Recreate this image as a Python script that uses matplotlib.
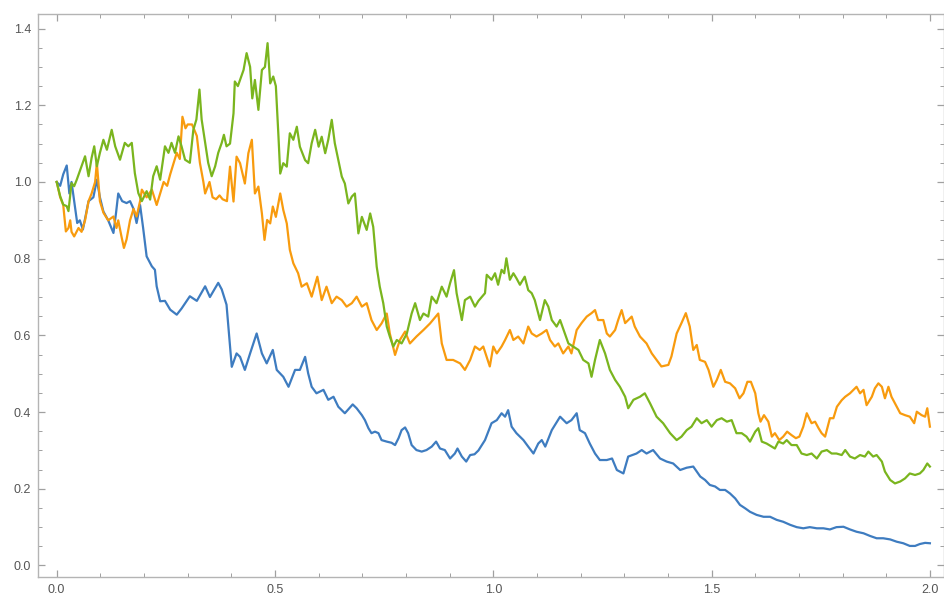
import matplotlib
matplotlib.use("Agg")
import matplotlib.pyplot as plt
from matplotlib.ticker import MultipleLocator

blue_pts = [
    (0.000, 1.000), (0.008, 0.990), (0.015, 1.020), (0.023, 1.043), (0.029, 0.970), (0.034, 1.000),
    (0.040, 0.950), (0.047, 0.893), (0.053, 0.900), (0.060, 0.876), (0.066, 0.910), (0.073, 0.950),
    (0.084, 0.960), (0.092, 1.006), (0.099, 0.960), (0.107, 0.923), (0.118, 0.900), (0.130, 0.867),
    (0.136, 0.920), (0.141, 0.970), (0.150, 0.950), (0.160, 0.945), (0.168, 0.950), (0.176, 0.930),
    (0.183, 0.893), (0.191, 0.940), (0.198, 0.880), (0.206, 0.806), (0.218, 0.780), (0.225, 0.771),
    (0.229, 0.728), (0.237, 0.689), (0.248, 0.690), (0.260, 0.667), (0.275, 0.654), (0.286, 0.670),
    (0.305, 0.702), (0.321, 0.690), (0.340, 0.728), (0.351, 0.700), (0.370, 0.737), (0.378, 0.720),
    (0.389, 0.680), (0.395, 0.600), (0.401, 0.518), (0.412, 0.553), (0.420, 0.544), (0.431, 0.510),
    (0.443, 0.553), (0.458, 0.605), (0.470, 0.553), (0.481, 0.527), (0.495, 0.562), (0.504, 0.510),
    (0.519, 0.492), (0.531, 0.466), (0.546, 0.510), (0.557, 0.510), (0.569, 0.544), (0.576, 0.501),
    (0.584, 0.466), (0.595, 0.449), (0.611, 0.458), (0.622, 0.432), (0.634, 0.440), (0.645, 0.414),
    (0.660, 0.397), (0.678, 0.420), (0.687, 0.410), (0.699, 0.392), (0.706, 0.379), (0.714, 0.358),
    (0.721, 0.345), (0.729, 0.349), (0.737, 0.345), (0.744, 0.327), (0.756, 0.323), (0.767, 0.320),
    (0.775, 0.314), (0.783, 0.332), (0.790, 0.353), (0.798, 0.360), (0.805, 0.345), (0.813, 0.314),
    (0.824, 0.301), (0.836, 0.297), (0.847, 0.301), (0.859, 0.310), (0.869, 0.323), (0.878, 0.305),
    (0.889, 0.301), (0.901, 0.279), (0.912, 0.292), (0.918, 0.305), (0.928, 0.284), (0.938, 0.271),
    (0.947, 0.288), (0.957, 0.290), (0.966, 0.300), (0.981, 0.327), (0.996, 0.371), (1.008, 0.379),
    (1.019, 0.397), (1.027, 0.388), (1.034, 0.405), (1.042, 0.362), (1.053, 0.345), (1.069, 0.327),
    (1.080, 0.310), (1.092, 0.292), (1.103, 0.318), (1.111, 0.327), (1.119, 0.310), (1.134, 0.353),
    (1.153, 0.388), (1.168, 0.371), (1.179, 0.379), (1.191, 0.397), (1.198, 0.353), (1.210, 0.345),
    (1.221, 0.318), (1.233, 0.292), (1.244, 0.275), (1.260, 0.275), (1.272, 0.279), (1.283, 0.249),
    (1.298, 0.240), (1.309, 0.284), (1.328, 0.292), (1.340, 0.301), (1.351, 0.292), (1.366, 0.301),
    (1.382, 0.279), (1.397, 0.271), (1.412, 0.266), (1.428, 0.249), (1.443, 0.255), (1.458, 0.258),
    (1.474, 0.232), (1.485, 0.223), (1.496, 0.210), (1.508, 0.206), (1.519, 0.197), (1.531, 0.197),
    (1.542, 0.188), (1.554, 0.175), (1.565, 0.158), (1.577, 0.149), (1.588, 0.140), (1.603, 0.132),
    (1.619, 0.127), (1.634, 0.127), (1.649, 0.119), (1.664, 0.114), (1.680, 0.106), (1.695, 0.100),
    (1.710, 0.097), (1.725, 0.100), (1.741, 0.097), (1.756, 0.097), (1.771, 0.094), (1.786, 0.100),
    (1.802, 0.101), (1.817, 0.094), (1.832, 0.088), (1.848, 0.084), (1.863, 0.077), (1.878, 0.071),
    (1.893, 0.071), (1.909, 0.068), (1.924, 0.062), (1.939, 0.058), (1.954, 0.051), (1.966, 0.051),
    (1.977, 0.056), (1.989, 0.059), (2.000, 0.058),
]

orange_pts = [
    (0.000, 1.000), (0.008, 0.960), (0.015, 0.940), (0.021, 0.871), (0.027, 0.880), (0.031, 0.900),
    (0.034, 0.870), (0.040, 0.858), (0.050, 0.880), (0.057, 0.870), (0.065, 0.900), (0.073, 0.950),
    (0.080, 0.970), (0.088, 1.000), (0.092, 1.050), (0.099, 0.950), (0.107, 0.920), (0.118, 0.900),
    (0.130, 0.910), (0.137, 0.880), (0.141, 0.900), (0.148, 0.860), (0.154, 0.828), (0.160, 0.850),
    (0.168, 0.900), (0.176, 0.930), (0.183, 0.910), (0.191, 0.950), (0.195, 0.980), (0.206, 0.960),
    (0.218, 0.980), (0.229, 0.940), (0.237, 0.970), (0.245, 1.000), (0.253, 0.990), (0.260, 1.020),
    (0.268, 1.050), (0.275, 1.076), (0.282, 1.060), (0.288, 1.170), (0.295, 1.140), (0.300, 1.150),
    (0.310, 1.150), (0.321, 1.120), (0.328, 1.050), (0.336, 1.000), (0.340, 0.970), (0.350, 1.000),
    (0.357, 0.960), (0.365, 0.955), (0.373, 0.965), (0.380, 0.955), (0.390, 0.950), (0.397, 1.040),
    (0.405, 0.949), (0.412, 1.066), (0.420, 1.049), (0.431, 0.996), (0.439, 1.075), (0.447, 1.110),
    (0.454, 0.970), (0.462, 0.988), (0.470, 0.918), (0.476, 0.849), (0.482, 0.901), (0.489, 0.892),
    (0.495, 0.936), (0.502, 0.909), (0.512, 0.970), (0.519, 0.927), (0.527, 0.892), (0.534, 0.823),
    (0.542, 0.788), (0.553, 0.762), (0.561, 0.727), (0.573, 0.736), (0.584, 0.701), (0.597, 0.753),
    (0.607, 0.692), (0.618, 0.727), (0.630, 0.684), (0.641, 0.701), (0.653, 0.692), (0.664, 0.675),
    (0.676, 0.684), (0.687, 0.701), (0.699, 0.675), (0.710, 0.684), (0.721, 0.640), (0.733, 0.614),
    (0.744, 0.631), (0.756, 0.657), (0.763, 0.605), (0.775, 0.549), (0.786, 0.588), (0.798, 0.610),
    (0.809, 0.579), (0.824, 0.597), (0.840, 0.614), (0.855, 0.631), (0.874, 0.657), (0.882, 0.579),
    (0.893, 0.536), (0.908, 0.536), (0.924, 0.527), (0.935, 0.510), (0.947, 0.536), (0.958, 0.571),
    (0.969, 0.562), (0.977, 0.571), (0.992, 0.519), (1.000, 0.571), (1.008, 0.553), (1.019, 0.571),
    (1.027, 0.588), (1.038, 0.614), (1.046, 0.588), (1.057, 0.597), (1.069, 0.579), (1.080, 0.623),
    (1.088, 0.605), (1.099, 0.597), (1.111, 0.605), (1.122, 0.614), (1.130, 0.588), (1.141, 0.571),
    (1.149, 0.579), (1.160, 0.553), (1.172, 0.571), (1.179, 0.553), (1.191, 0.614), (1.202, 0.632),
    (1.214, 0.649), (1.225, 0.658), (1.233, 0.666), (1.240, 0.640), (1.252, 0.640), (1.260, 0.605),
    (1.267, 0.597), (1.279, 0.614), (1.286, 0.640), (1.294, 0.666), (1.302, 0.632), (1.309, 0.640),
    (1.317, 0.649), (1.324, 0.623), (1.336, 0.597), (1.351, 0.579), (1.363, 0.553), (1.374, 0.536),
    (1.385, 0.519), (1.401, 0.523), (1.408, 0.545), (1.420, 0.605), (1.431, 0.632), (1.441, 0.658),
    (1.450, 0.623), (1.458, 0.562), (1.466, 0.575), (1.473, 0.536), (1.485, 0.531), (1.493, 0.510),
    (1.504, 0.466), (1.512, 0.484), (1.521, 0.510), (1.531, 0.479), (1.542, 0.475), (1.554, 0.462),
    (1.564, 0.436), (1.573, 0.449), (1.582, 0.479), (1.590, 0.479), (1.600, 0.449), (1.607, 0.397),
    (1.612, 0.375), (1.620, 0.392), (1.630, 0.375), (1.638, 0.336), (1.645, 0.345), (1.655, 0.327),
    (1.664, 0.336), (1.673, 0.349), (1.683, 0.340), (1.693, 0.332), (1.701, 0.336), (1.710, 0.362),
    (1.718, 0.397), (1.729, 0.371), (1.737, 0.375), (1.745, 0.358), (1.752, 0.345), (1.760, 0.336),
    (1.771, 0.384), (1.779, 0.384), (1.787, 0.414), (1.798, 0.431), (1.806, 0.440), (1.817, 0.449),
    (1.825, 0.458), (1.832, 0.466), (1.840, 0.449), (1.848, 0.458), (1.855, 0.418), (1.867, 0.440),
    (1.874, 0.462), (1.882, 0.475), (1.890, 0.466), (1.897, 0.436), (1.905, 0.466), (1.912, 0.440),
    (1.920, 0.423), (1.932, 0.397), (1.943, 0.392), (1.954, 0.388), (1.964, 0.371), (1.970, 0.401),
    (1.981, 0.392), (1.989, 0.388), (1.994, 0.410), (2.000, 0.362),
]

green_pts = [
    (0.000, 1.000), (0.008, 0.963), (0.015, 0.941), (0.023, 0.937), (0.027, 0.924), (0.034, 0.997),
    (0.040, 0.989), (0.046, 1.006), (0.057, 1.041), (0.065, 1.067), (0.073, 1.015), (0.080, 1.063),
    (0.086, 1.093), (0.092, 1.041), (0.099, 1.076), (0.107, 1.110), (0.115, 1.084), (0.126, 1.136),
    (0.134, 1.093), (0.145, 1.058), (0.156, 1.102), (0.164, 1.093), (0.172, 1.102), (0.179, 1.023),
    (0.187, 0.971), (0.195, 0.950), (0.206, 0.976), (0.214, 0.954), (0.221, 1.015), (0.229, 1.041),
    (0.237, 1.006), (0.248, 1.093), (0.256, 1.076), (0.263, 1.102), (0.271, 1.076), (0.279, 1.119),
    (0.286, 1.093), (0.294, 1.058), (0.305, 1.050), (0.313, 1.136), (0.320, 1.163), (0.327, 1.241),
    (0.332, 1.163), (0.340, 1.102), (0.347, 1.050), (0.355, 1.015), (0.363, 1.041), (0.370, 1.076),
    (0.378, 1.102), (0.383, 1.123), (0.389, 1.093), (0.397, 1.100), (0.405, 1.179), (0.408, 1.262),
    (0.415, 1.250), (0.428, 1.292), (0.435, 1.336), (0.443, 1.300), (0.448, 1.218), (0.454, 1.266),
    (0.462, 1.188), (0.470, 1.292), (0.477, 1.300), (0.483, 1.362), (0.489, 1.257), (0.496, 1.275),
    (0.502, 1.250), (0.508, 1.118), (0.512, 1.022), (0.519, 1.049), (0.527, 1.040), (0.534, 1.127),
    (0.542, 1.110), (0.550, 1.144), (0.557, 1.092), (0.569, 1.057), (0.576, 1.049), (0.584, 1.101),
    (0.592, 1.136), (0.600, 1.092), (0.607, 1.118), (0.615, 1.075), (0.622, 1.110), (0.630, 1.162),
    (0.637, 1.101), (0.645, 1.057), (0.653, 1.014), (0.660, 0.996), (0.668, 0.944), (0.676, 0.962),
    (0.683, 0.970), (0.691, 0.866), (0.699, 0.909), (0.710, 0.875), (0.718, 0.918), (0.725, 0.883),
    (0.733, 0.779), (0.740, 0.727), (0.748, 0.684), (0.756, 0.623), (0.763, 0.597), (0.771, 0.571),
    (0.779, 0.588), (0.790, 0.579), (0.802, 0.605), (0.813, 0.657), (0.821, 0.684), (0.832, 0.640),
    (0.840, 0.657), (0.851, 0.649), (0.859, 0.701), (0.870, 0.684), (0.882, 0.727), (0.893, 0.701),
    (0.901, 0.736), (0.910, 0.770), (0.916, 0.710), (0.928, 0.640), (0.935, 0.692), (0.947, 0.701),
    (0.958, 0.675), (0.966, 0.690), (0.981, 0.710), (0.985, 0.758), (0.996, 0.745), (1.004, 0.762),
    (1.011, 0.732), (1.019, 0.771), (1.025, 0.762), (1.030, 0.801), (1.038, 0.745), (1.046, 0.762),
    (1.053, 0.749), (1.061, 0.732), (1.072, 0.753), (1.080, 0.718), (1.088, 0.710), (1.095, 0.692),
    (1.107, 0.640), (1.118, 0.692), (1.126, 0.675), (1.134, 0.640), (1.145, 0.623), (1.153, 0.640),
    (1.164, 0.605), (1.172, 0.579), (1.183, 0.571), (1.195, 0.562), (1.206, 0.536), (1.218, 0.527),
    (1.225, 0.492), (1.233, 0.536), (1.244, 0.588), (1.256, 0.553), (1.267, 0.510), (1.279, 0.484),
    (1.290, 0.466), (1.302, 0.440), (1.309, 0.410), (1.321, 0.432), (1.336, 0.440), (1.347, 0.449),
    (1.359, 0.423), (1.374, 0.388), (1.389, 0.371), (1.405, 0.345), (1.420, 0.327), (1.431, 0.336),
    (1.443, 0.353), (1.454, 0.362), (1.466, 0.384), (1.477, 0.371), (1.489, 0.379), (1.500, 0.362),
    (1.512, 0.379), (1.523, 0.384), (1.535, 0.375), (1.546, 0.379), (1.557, 0.345), (1.569, 0.345),
    (1.580, 0.336), (1.588, 0.323), (1.600, 0.349), (1.607, 0.358), (1.615, 0.323), (1.626, 0.318),
    (1.638, 0.310), (1.645, 0.305), (1.653, 0.323), (1.664, 0.318), (1.672, 0.327), (1.683, 0.314),
    (1.695, 0.314), (1.706, 0.292), (1.718, 0.288), (1.729, 0.292), (1.741, 0.279), (1.752, 0.297),
    (1.764, 0.301), (1.775, 0.292), (1.786, 0.292), (1.798, 0.288), (1.806, 0.301), (1.817, 0.284),
    (1.828, 0.279), (1.840, 0.288), (1.851, 0.284), (1.859, 0.297), (1.870, 0.284), (1.878, 0.288),
    (1.890, 0.271), (1.897, 0.245), (1.909, 0.223), (1.920, 0.214), (1.932, 0.219), (1.943, 0.227),
    (1.954, 0.240), (1.966, 0.236), (1.977, 0.240), (1.985, 0.249), (1.994, 0.266), (2.000, 0.258),
]

x_ticks = [0.0, 0.5, 1.0, 1.5, 2.0]
y_ticks = [0.0, 0.2, 0.4, 0.6, 0.8, 1.0, 1.2, 1.4]

series = [
    (blue_pts, "#3E7CC0"),
    (orange_pts, "#F89B0E"),
    (green_pts, "#7AB51E"),
]

fig = plt.figure(figsize=(9.45, 5.97), dpi=100)
ax = fig.add_axes([38 / 945, 1 - 577 / 597, (944 - 38) / 945, (577 - 14) / 597])

for pts, col in series:
    xs, ys = zip(*pts)
    ax.plot(xs, ys, color=col, lw=1.6, solid_joinstyle="round")

ax.set_xlim(-0.0428, 2.0323)
ax.set_ylim(-0.030, 1.438)

frame_col = "#B4B4B4"
for s in ax.spines.values():
    s.set_color(frame_col)
    s.set_linewidth(1.0)

ax.set_xticks(x_ticks)
ax.set_yticks(y_ticks)
ax.set_xticklabels([f"{v:.1f}" for v in x_ticks])
ax.set_yticklabels([f"{v:.1f}" for v in y_ticks])
ax.xaxis.set_minor_locator(MultipleLocator(0.1))
ax.yaxis.set_minor_locator(MultipleLocator(0.05))
ax.tick_params(which="both", direction="in", color="#A0A0A0", top=True, right=True,
               labeltop=False, labelright=False)
ax.tick_params(which="major", length=5, width=0.9, labelsize=9, labelcolor="#555555", pad=5)
ax.tick_params(which="minor", length=3, width=0.7)
for lab in ax.get_xticklabels() + ax.get_yticklabels():
    lab.set_family("Liberation Sans")

fig.savefig("out.png", dpi=100, facecolor="white")
